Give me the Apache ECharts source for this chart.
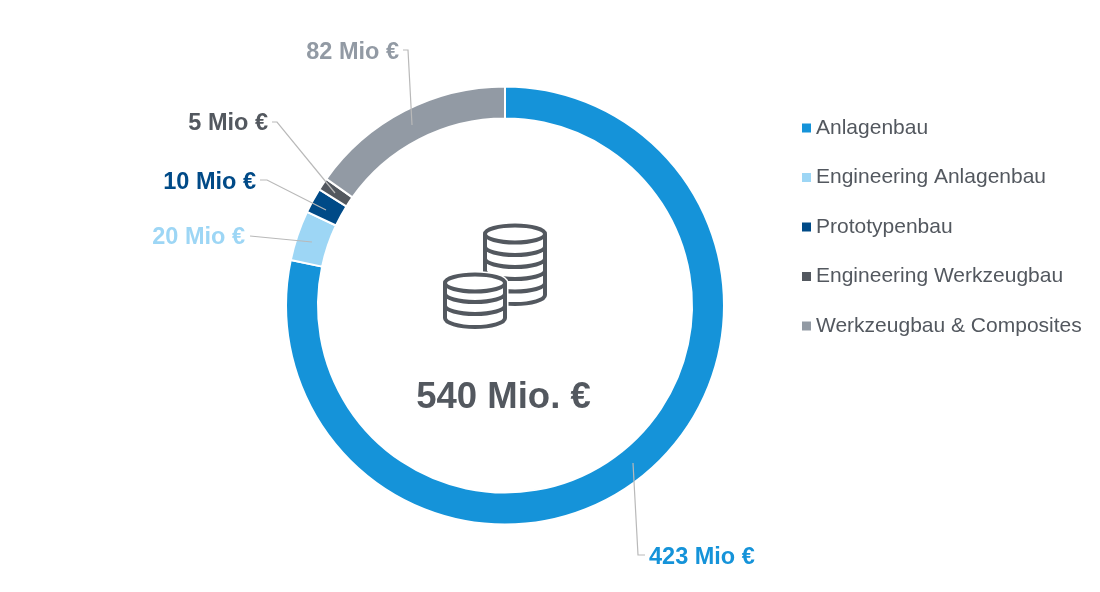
<!DOCTYPE html>
<html><head><meta charset="utf-8">
<style>html,body{margin:0;padding:0;background:#fff}#c{width:1100px;height:592px}</style>
<script src="https://cdn.jsdelivr.net/npm/echarts@6/dist/echarts.min.js"></script>
</head><body><div id="c"></div>
<script>
const categories = ['Anlagenbau','Engineering Anlagenbau','Prototypenbau','Engineering Werkzeugbau','Werkzeugbau & Composites'];
const values = [423,20,10,5,82];
const colors = ['#1593d9','#9dd6f5','#004a87','#53585f','#929aa4'];
const totalLabel = '540 Mio. €';
const labelAnchors = [
  {x:649,y:558,align:'left', line:[[633,463],[638,555],[645,555]]},
  {x:245,y:238,align:'right',line:[[250,236],[312,242]]},
  {x:256,y:183,align:'right',line:[[260,180],[267,180],[326,210]]},
  {x:268,y:124,align:'right',line:[[272,122],[277,122],[335,193]]},
  {x:399,y:53, align:'right',line:[[403,50],[408,50],[412,125]]}
];
const font = '"Liberation Sans", Arial, sans-serif';
function arc(x0,x1,y,rx,ry){return `M${x0} ${y}A${rx} ${ry} 0 0 0 ${x1} ${y}`;}
const iconBack = `M485 234A30 8.5 0 0 1 545 234A30 8.5 0 0 1 485 234ZM485 234V295M545 234V295`
  + arc(485,545,295,30,9)+arc(485,545,246.5,30,8.5)+arc(485,545,258.5,30,8.5)+arc(485,545,270.5,30,8.5)+arc(485,545,283,30,8.5);
const iconFrontShape = `M445 283A30 8.5 0 0 1 505 283V318A30 9 0 0 1 445 318Z`;
const iconFront = `M445 283A30 8.5 0 0 1 505 283A30 8.5 0 0 1 445 283ZM445 283V318A30 9 0 0 0 505 318V283`
  + arc(445,505,293.5,30,8.5)+arc(445,505,305.5,30,8.5);
echarts.graphic.registerShape('coinBack', echarts.graphic.extendPath(iconBack,{}));
echarts.graphic.registerShape('coinHalo', echarts.graphic.extendPath(iconFrontShape,{}));
echarts.graphic.registerShape('coinFront', echarts.graphic.extendPath(iconFront,{}));
const iconStyle = {fill:'none',stroke:'#53585f',lineWidth:4};
const chart = echarts.init(document.getElementById('c'),null,{renderer:'canvas'});
chart.setOption({
  animation:false,
  backgroundColor:'#fff',
  legend:{
    orient:'vertical',left:797,top:111,itemWidth:9,itemHeight:9,itemGap:25.5,icon:'rect',
    itemStyle:{borderWidth:0},
    data:categories,
    textStyle:{fontFamily:font,fontSize:21,color:'#53585f',lineHeight:24}
  },
  graphic:[
    {type:'coinBack',z:10,style:iconStyle},
    {type:'coinHalo',z:11,style:{fill:'#fff',stroke:'#fff',lineWidth:7}},
    {type:'coinFront',z:12,style:iconStyle},
    {type:'text',z:10,x:503.5,y:398,style:{text:totalLabel,font:`bold 36.5px ${font}`,fill:'#53585f',align:'center',verticalAlign:'middle'}}
  ],
  series:[{
    type:'pie',center:[505,305.5],radius:[187,219],startAngle:90,clockwise:true,z:2,
    silent:true,
    itemStyle:{borderColor:'#fff',borderWidth:2},
    label:{show:false},
    labelLine:{show:false},
    data:categories.map((n,i)=>({name:n,value:values[i],itemStyle:{color:colors[i]}}))
  },{
    type:'pie',center:[505,305.5],radius:[187,219],startAngle:90,clockwise:true,z:3,
    silent:true,legendHoverLink:false,
    itemStyle:{color:'rgba(0,0,0,0)',borderWidth:0},
    label:{show:true,formatter:'{c} Mio €',fontFamily:font,fontSize:23.5,fontWeight:'bold'},
    labelLine:{show:true,lineStyle:{color:'#b9b9b9',width:1.2}},
    labelLayout:p=>{
      const a=labelAnchors[p.dataIndex];
      return {x:a.x,y:a.y,align:a.align,verticalAlign:'middle',labelLinePoints:a.line};
    },
    data:categories.map((n,i)=>({name:n,value:values[i],label:{color:colors[i]}}))
  }]
});
</script></body></html>
